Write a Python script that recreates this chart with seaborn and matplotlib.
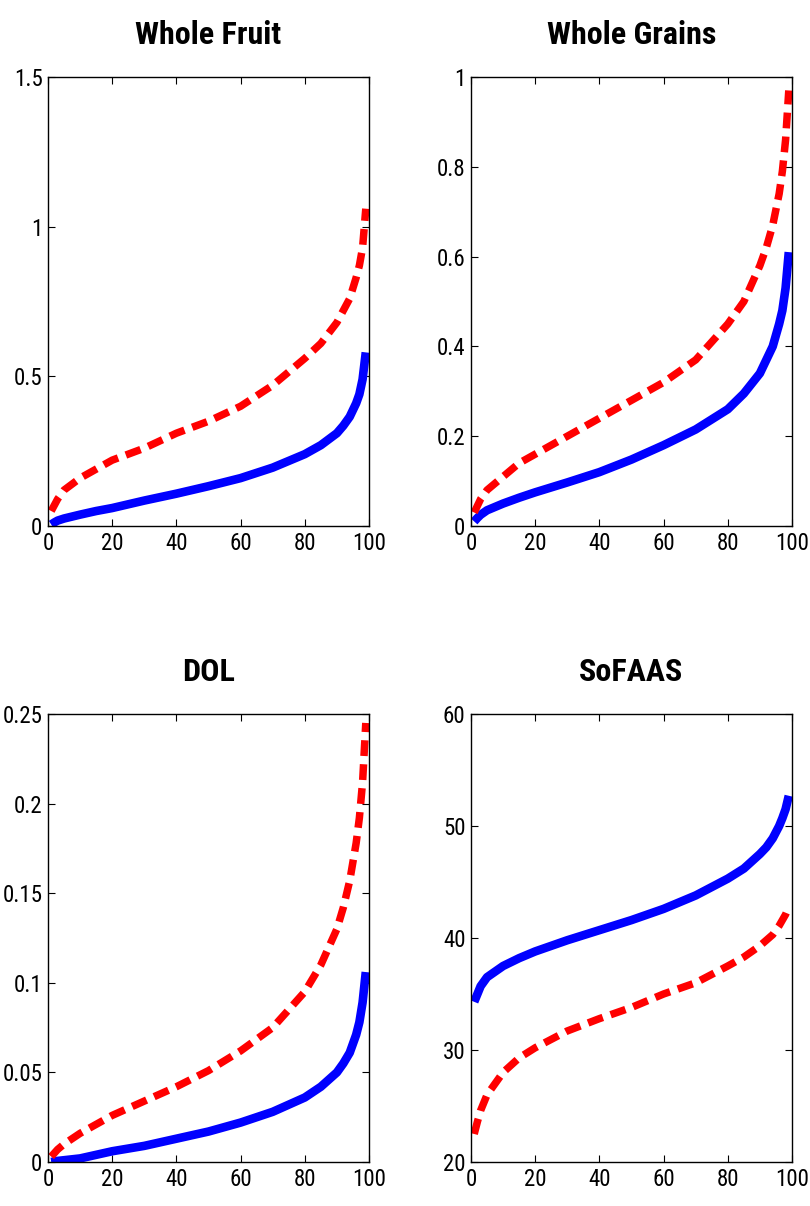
import matplotlib
matplotlib.use("Agg")
import matplotlib.pyplot as plt
from matplotlib import font_manager
import pandas as pd
import seaborn as sns

PCT = [1, 2, 3, 5, 10, 15, 20, 30, 40, 50, 60, 70, 80, 85, 90, 92, 94, 96, 97, 98, 99]

FRUIT_BLUE = [0.005, 0.012, 0.018, 0.025, 0.038, 0.05, 0.06, 0.085, 0.108, 0.133, 0.16,
              0.195, 0.24, 0.27, 0.31, 0.335, 0.365, 0.41, 0.44, 0.49, 0.58]
FRUIT_RED = [0.05, 0.07, 0.09, 0.12, 0.16, 0.19, 0.22, 0.26, 0.31, 0.35, 0.40,
             0.47, 0.56, 0.61, 0.68, 0.72, 0.76, 0.83, 0.87, 0.93, 1.06]

GRAIN_BLUE = [0.01, 0.018, 0.025, 0.035, 0.05, 0.063, 0.075, 0.097, 0.12, 0.148, 0.18,
              0.215, 0.26, 0.295, 0.34, 0.37, 0.40, 0.45, 0.48, 0.53, 0.61]
GRAIN_RED = [0.03, 0.045, 0.06, 0.08, 0.11, 0.14, 0.16, 0.20, 0.24, 0.28, 0.32,
             0.37, 0.45, 0.50, 0.58, 0.62, 0.67, 0.74, 0.79, 0.86, 0.97]

DOL_BLUE = [0.0, 0.0003, 0.0006, 0.001, 0.002, 0.004, 0.006, 0.009, 0.013, 0.017, 0.022,
            0.028, 0.036, 0.042, 0.05, 0.055, 0.061, 0.071, 0.078, 0.089, 0.106]
DOL_RED = [0.003, 0.005, 0.007, 0.01, 0.016, 0.021, 0.026, 0.034, 0.042, 0.051, 0.062,
           0.075, 0.095, 0.11, 0.13, 0.142, 0.157, 0.178, 0.192, 0.212, 0.245]

SOFAAS_BLUE = [34.3, 35.0, 35.7, 36.5, 37.5, 38.2, 38.8, 39.8, 40.7, 41.6, 42.6,
               43.8, 45.3, 46.2, 47.5, 48.1, 48.9, 50.0, 50.7, 51.5, 52.7]
SOFAAS_RED = [22.5, 23.6, 24.6, 26.0, 28.0, 29.3, 30.2, 31.7, 32.8, 33.8, 35.0,
              36.0, 37.5, 38.3, 39.3, 39.8, 40.3, 41.1, 41.6, 42.1, 42.8]

PANELS = [
    ("Whole Fruit", FRUIT_BLUE, FRUIT_RED, (0, 1.5), [0, 0.5, 1, 1.5], ["0", "0.5", "1", "1.5"]),
    ("Whole Grains", GRAIN_BLUE, GRAIN_RED, (0, 1), [0, 0.2, 0.4, 0.6, 0.8, 1],
     ["0", "0.2", "0.4", "0.6", "0.8", "1"]),
    ("DOL", DOL_BLUE, DOL_RED, (0, 0.25), [0, 0.05, 0.1, 0.15, 0.2, 0.25],
     ["0", "0.05", "0.1", "0.15", "0.2", "0.25"]),
    ("SoFAAS", SOFAAS_BLUE, SOFAAS_RED, (20, 60), [20, 30, 40, 50, 60], ["20", "30", "40", "50", "60"]),
]
X_TICKS = [0, 20, 40, 60, 80, 100]

# axes boxes in pixels: left, top, right, bottom
BOXES = [(48, 77, 369, 526), (471, 77, 792, 526), (48, 714, 369, 1162), (471, 714, 792, 1162)]

W, H = 810, 1206

sns.set_theme(style="ticks")

installed = {f.name for f in font_manager.fontManager.ttflist}
narrow = [n for n in ["Liberation Sans Narrow", "Roboto Condensed", "Open Sans Condensed",
                      "Nimbus Sans Narrow", "Arial Narrow"] if n in installed]
if narrow:
    plt.rcParams["font.family"] = [narrow[0], "DejaVu Sans"]
    LABEL_SIZE, TITLE_SIZE = 16.5, 23
else:
    plt.rcParams["font.family"] = ["Liberation Sans", "DejaVu Sans"]
    LABEL_SIZE, TITLE_SIZE = 14.5, 18.5

fig = plt.figure(figsize=(W / 100, H / 100), dpi=100)
fig.patch.set_facecolor("white")

for (title, blue, red, ylim, yticks, ylabels), (l, t, r, b) in zip(PANELS, BOXES):
    ax = fig.add_axes([l / W, 1 - b / H, (r - l) / W, (b - t) / H])
    df = pd.DataFrame({"pct": PCT, "blue": blue, "red": red})
    sns.lineplot(data=df, x="pct", y="blue", ax=ax, color="#0000ff", linewidth=6.2,
                 solid_capstyle="butt", solid_joinstyle="round")
    sns.lineplot(data=df, x="pct", y="red", ax=ax, color="#ff0000", linewidth=5.4)
    ax.lines[-1].set_dashes((2.1, 1.1))
    ax.lines[-1].set_dash_capstyle("butt")
    ax.set_xlim(0, 100)
    ax.set_ylim(*ylim)
    ax.set_xticks(X_TICKS)
    ax.set_xticklabels([str(v) for v in X_TICKS])
    ax.set_yticks(yticks)
    ax.set_yticklabels(ylabels)
    ax.set_xlabel("")
    ax.set_ylabel("")
    ax.set_title(title, fontsize=TITLE_SIZE, fontweight="bold", pad=24, color="black")
    ax.tick_params(direction="in", length=5, width=0.8, top=True, right=True,
                   labelsize=LABEL_SIZE, colors="black", pad=4)
    for sp in ax.spines.values():
        sp.set_visible(True)
        sp.set_color("black")
        sp.set_linewidth(1.0)
    ax.set_facecolor("white")

fig.savefig("out.png", dpi=100, facecolor="white")
